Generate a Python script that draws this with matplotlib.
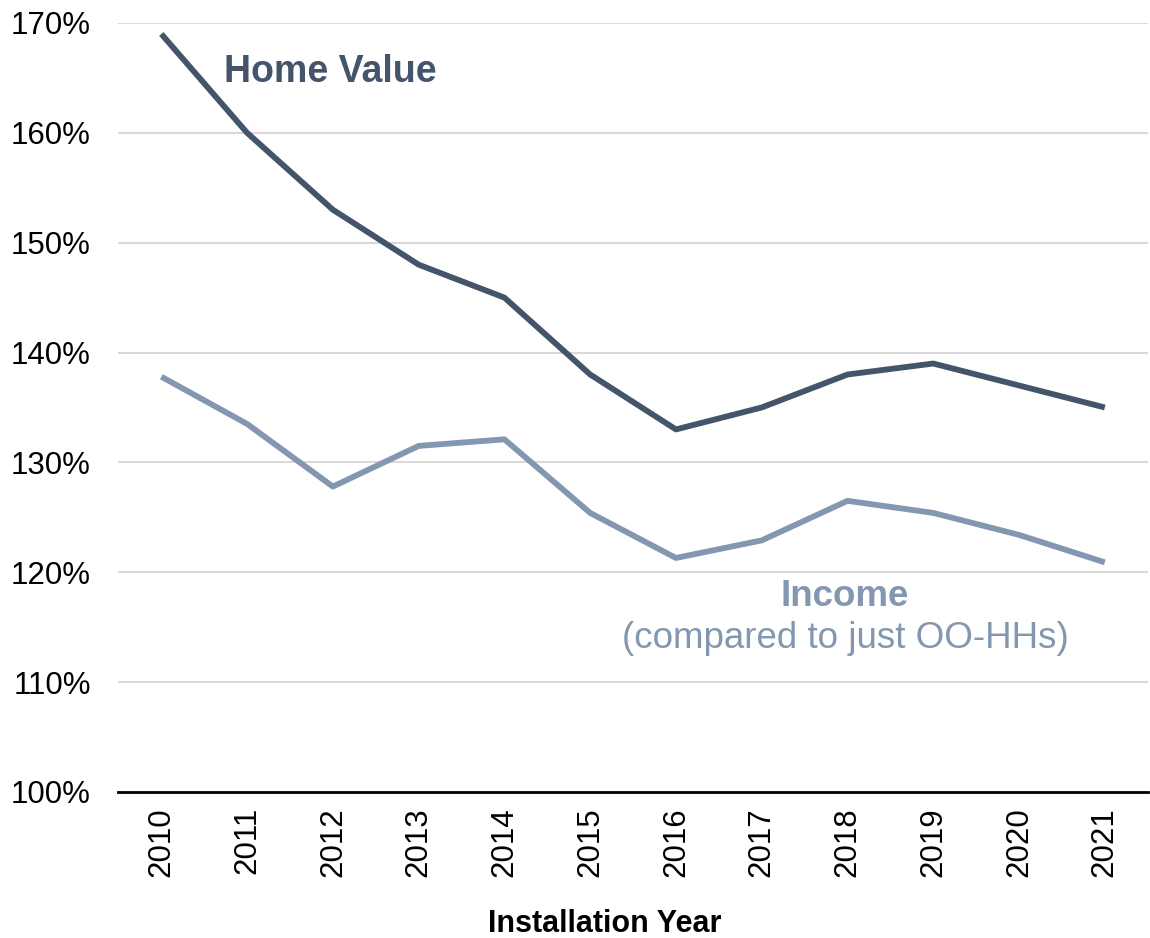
import matplotlib
matplotlib.use("Agg")
import matplotlib.pyplot as plt
from matplotlib.ticker import FuncFormatter

plt.rcParams['font.family'] = ['Liberation Sans', 'DejaVu Sans']

years = ['2010', '2011', '2012', '2013', '2014', '2015', '2016', '2017', '2018', '2019', '2020', '2021']
home_value = [169, 160, 153, 148, 145, 138, 133, 135, 138, 139, 137, 135]
income = [137.8, 133.5, 127.8, 131.5, 132.1, 125.4, 121.3, 122.9, 126.5, 125.4, 123.4, 120.9]

dark = '#44546A'
light = '#8497B0'

fig = plt.figure(figsize=(11.5, 9.38), dpi=100)
ax = fig.add_axes([0.103, 0.1557, 0.895, 0.8198])

x = list(range(len(years)))
ax.plot(x, home_value, color=dark, lw=4.2, solid_joinstyle='round', solid_capstyle='butt', zorder=3)
ax.plot(x, income, color=light, lw=4.2, solid_joinstyle='round', solid_capstyle='butt', zorder=3)

ax.set_xlim(-0.5, len(years) - 0.5)
ax.set_ylim(100, 170)
ax.set_yticks(range(100, 171, 10))
ax.yaxis.set_major_formatter(FuncFormatter(lambda v, p: f'{int(v)}%'))
ax.set_xticks(x)
ax.set_xticklabels(years, rotation=90)
ax.grid(axis='y', color='#D9D9D9', lw=1.5)
ax.set_axisbelow(True)
for s in ['top', 'right', 'left']:
    ax.spines[s].set_visible(False)
ax.spines['bottom'].set_color('black')
ax.spines['bottom'].set_linewidth(2)
ax.tick_params(axis='both', length=0, labelsize=22.5, colors='black')
ax.tick_params(axis='x', pad=11)
ax.tick_params(axis='y', pad=20)

ax.set_xlabel('Installation Year', fontsize=22, fontweight='bold')
ax.xaxis.set_label_coords((605 - 118) / 1030, -0.152)

ax.text(0.73, 165.5, 'Home Value', color=dark, fontsize=27, fontweight='bold', ha='left', va='center')
ax.text(7.97, 117.8, 'Income', color=light, fontsize=26.5, fontweight='bold', ha='center', va='center')
ax.text(7.97, 114.0, '(compared to just OO-HHs)', color=light, fontsize=26.5, ha='center', va='center')

fig.savefig('out.png', dpi=100)
